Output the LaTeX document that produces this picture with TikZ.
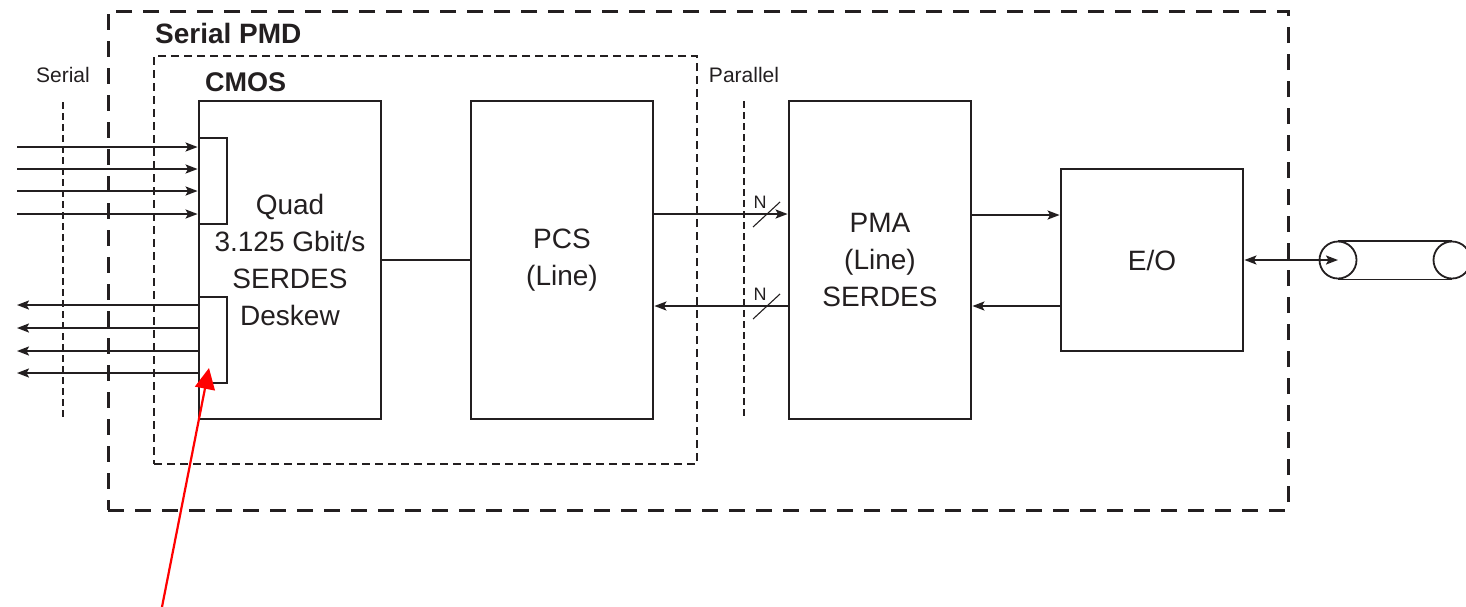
\documentclass[tikz,border=0pt]{standalone}
\usepackage{fontspec}
\setmainfont{Liberation Sans}
\usetikzlibrary{arrows.meta}
\definecolor{ink}{HTML}{231F20}
\begin{document}
\begin{tikzpicture}[x=1pt,y=-1pt,
  every node/.style={text=ink},
  blk/.style={draw=ink, line width=2.8pt, minimum width=182pt, minimum height=318pt, inner sep=0pt, align=center, font=\fontsize{28}{37}\selectfont},
  port/.style={draw=ink, line width=1.2pt, minimum width=28pt, minimum height=86pt, inner sep=0pt},
  sig/.style={draw=ink, line width=2pt, -{Stealth[length=12pt,width=9pt,inset=2.5pt]}},
  bisig/.style={draw=ink, line width=2pt, {Stealth[length=12pt,width=9pt,inset=2.5pt]}-{Stealth[length=12pt,width=9pt,inset=2.5pt]}},
  pmdbox/.style={draw=ink, line width=3pt, dash pattern=on 16pt off 11pt, minimum width=1180pt, minimum height=499pt, inner sep=0pt},
  cmosbox/.style={draw=ink, line width=1.9pt, dash pattern=on 8pt off 5pt, minimum width=543pt, minimum height=408pt, inner sep=0pt},
  divider/.style={draw=ink, line width=1.6pt, dash pattern=on 7pt off 4pt},
  lbl/.style={font=\fontsize{21}{24}\selectfont, inner sep=0pt},
  title/.style={font=\fontsize{27}{30}\selectfont\bfseries, inner sep=0pt, anchor=west},
  nlbl/.style={font=\fontsize{18}{20}\selectfont, inner sep=0pt},
  fib/.style={circle, draw=ink, line width=1.8pt, minimum size=37pt, inner sep=0pt}
]
\useasboundingbox (0,0) rectangle (1466,606);
\clip (0,0) rectangle (1466,606);

% dashed enclosures
\node[pmdbox] (pmd) at (698,260.5) {};
\node[cmosbox] (cmos) at (425.5,260) {};
\node[title, font=\fontsize{28}{30}\selectfont\bfseries] (pmdtitle) at (155,33.5) {Serial PMD};
\node[title] (cmostitle) at (205,82) {CMOS};

% divider lines
\coordinate (ser1) at (63,102);
\coordinate (ser2) at (63,418);
\coordinate (par1) at (744,101);
\coordinate (par2) at (744,418);
\draw[divider] (ser1) -- (ser2);
\draw[divider] (par1) -- (par2);
\node[lbl] (serlbl) at (63,75) {Serial};
\node[lbl] (parlbl) at (744,75) {Parallel};

% blocks
\node[blk] (serdes) at (290,260) {Quad\\3.125 Gbit/s\\SERDES\\Deskew};
\node[blk] (pcs) at (562,260) {PCS\\(Line)};
\node[blk] (pma) at (880,260) {PMA\\(Line)\\SERDES};
\node[blk, minimum height=182pt] (eo) at (1152,260) {E/O};
\node[port] (rx) at (213,181) {};
\node[port] (tx) at (213,340) {};

% serial lanes
\foreach \y [count=\i] in {147,169,191,214} {
  \coordinate (in\i) at (17,\y);
  \draw[sig] (in\i) -- (in\i -| serdes.west);
}
\foreach \y [count=\i] in {305,328,351,373} {
  \coordinate (out\i) at (17,\y);
  \draw[sig] (out\i -| serdes.west) -- (out\i);
}

% internal link
\draw[draw=ink, line width=1.1pt] (serdes) -- (pcs);

% parallel buses
\draw[sig] ([yshift=46pt]pcs.east) -- ([yshift=46pt]pma.west);
\draw[sig] ([yshift=-46pt]pma.west) -- ([yshift=-46pt]pcs.east);
\coordinate (s1a) at (753,227);
\coordinate (s1b) at (780,202);
\coordinate (s2a) at (753,319);
\coordinate (s2b) at (780,294);
\draw[draw=ink, line width=1.1pt] (s1a) -- (s1b);
\draw[draw=ink, line width=1.1pt] (s2a) -- (s2b);
\node[nlbl] (n1) at (760,202.5) {N};
\node[nlbl] (n2) at (760,294) {N};

% PMA <-> E/O
\draw[sig] ([yshift=45pt]pma.east) -- ([yshift=45pt]eo.west);
\draw[sig] ([yshift=-46pt]eo.west) -- ([yshift=-46pt]pma.east);

% fibre
\node[fib] (fibL) at (1338,260) {};
\node[fib] (fibR) at (1452,260) {};
\draw[draw=ink, line width=1.8pt] (fibL.north) -- (fibR.north);
\draw[draw=ink, line width=1.8pt] (fibL.south) -- (fibR.south);
\draw[bisig] (eo.east) -- (fibL.center);

% red pointer
\coordinate (redA) at (161,612);
\coordinate (redB) at (209,368);
\draw[red, line width=2.2pt, -{Triangle[length=21pt,width=20pt]}] (redA) -- (redB);
\end{tikzpicture}
\end{document}
